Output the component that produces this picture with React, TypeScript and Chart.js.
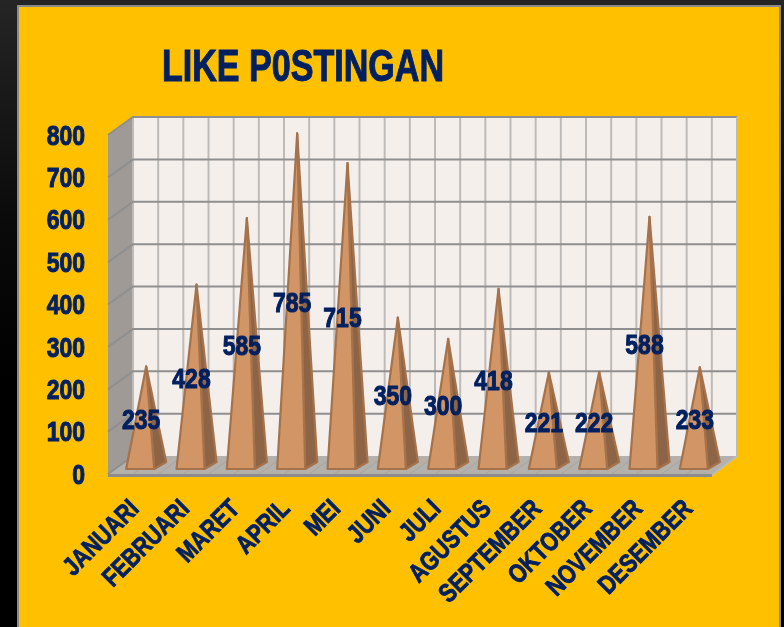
import React, { useEffect, useRef } from "react";
import { Chart, registerables } from "chart.js";

Chart.register(...registerables);

const chartTitle = "LIKE P0STINGAN";
const months = ["JANUARI", "FEBRUARI", "MARET", "APRIL", "MEI", "JUNI", "JULI", "AGUSTUS", "SEPTEMBER", "OKTOBER", "NOVEMBER", "DESEMBER"];
const likes = [235, 428, 585, 785, 715, 350, 300, 418, 221, 222, 588, 233];

const NAVY = "#002060";
const FONT = "'Liberation Sans', Arial, sans-serif";
const SQUEEZE = 0.82;
const DX = 25;
const DY = -18;

const scene = {
  id: "scene3d",
  beforeInit(chart: any) {
    // the reference's text is horizontally condensed
    const ctx = chart.ctx;
    const fill = ctx.fillText.bind(ctx);
    const stroke = ctx.strokeText.bind(ctx);
    ctx.fillText = (s: string, px: number, py: number, mw?: number) => {
      fill(s, px, py, mw ?? ctx.measureText(s).width * SQUEEZE);
      if (s === chartTitle) {
        ctx.save();
        ctx.strokeStyle = NAVY;
        ctx.lineWidth = 1;
        stroke(s, px, py, mw);
        ctx.restore();
      }
    };
    ctx.strokeText = (s: string, px: number, py: number, mw?: number) =>
      stroke(s, px, py, mw ?? ctx.measureText(s).width * SQUEEZE);
  },
  beforeDraw(chart: any) {
    const { ctx, scales } = chart;
    const x = scales.x;
    const y = scales.y;
    const l = x.left, r = x.right, t = y.top, b = y.bottom;
    ctx.save();
    // side wall
    ctx.fillStyle = "#a09a96";
    ctx.beginPath();
    ctx.moveTo(l, t); ctx.lineTo(l + DX, t + DY); ctx.lineTo(l + DX, b + DY); ctx.lineTo(l, b);
    ctx.closePath(); ctx.fill();
    // back wall
    ctx.fillStyle = "#f5efec";
    ctx.fillRect(l + DX, t + DY, r - l, b - t);
    // floor
    ctx.fillStyle = "#b4b1ac";
    ctx.beginPath();
    ctx.moveTo(l, b); ctx.lineTo(l + DX, b + DY); ctx.lineTo(r + DX, b + DY); ctx.lineTo(r, b);
    ctx.closePath(); ctx.fill();
    // vertical grid on the wall and floor, at each tick and each half category
    const half = (x.getPixelForTick(1) - x.getPixelForTick(0)) / 2;
    for (let i = 0; i <= months.length * 2; i++) {
      const px = l + i * half;
      ctx.strokeStyle = "#bdbbb9";
      ctx.lineWidth = 2;
      ctx.beginPath();
      ctx.moveTo(px + DX, t + DY); ctx.lineTo(px + DX, b + DY);
      ctx.stroke();
      ctx.strokeStyle = "#a9a6a2";
      ctx.lineWidth = 1;
      ctx.beginPath();
      ctx.moveTo(px + DX, b + DY); ctx.lineTo(px, b);
      ctx.stroke();
    }
    // horizontal grid
    ctx.strokeStyle = "#8f8f8f";
    ctx.lineWidth = 2;
    y.ticks.forEach((_: any, i: number) => {
      const py = y.getPixelForTick(i);
      ctx.beginPath();
      ctx.moveTo(l, py); ctx.lineTo(l + DX, py + DY);
      if (i > 0) ctx.lineTo(r + DX, py + DY);
      ctx.stroke();
    });
    // floor front edge
    ctx.strokeStyle = "#8c8c8c";
    ctx.lineWidth = 3;
    ctx.beginPath();
    ctx.moveTo(l, b + 1.5); ctx.lineTo(r, b + 1.5);
    ctx.stroke();
    ctx.strokeStyle = "#bdbbb9";
    ctx.lineWidth = 2;
    ctx.beginPath();
    ctx.moveTo(r, b + 1); ctx.lineTo(r + DX, b + DY);
    ctx.lineTo(r + DX, t + DY);
    ctx.stroke();
    ctx.restore();
  },
  afterDatasetsDraw(chart: any) {
    const { ctx } = chart;
    const bars = chart.getDatasetMeta(0).data;
    const base = chart.scales.y.bottom;
    ctx.save();
    ctx.lineJoin = "round";
    bars.forEach((bar: any) => {
      const c = bar.x;
      const apexX = c + 13;
      const apexY = bar.y - 8;
      ctx.lineWidth = 2.2;
      ctx.strokeStyle = "#a5724b";
      ctx.fillStyle = "#8d6546";
      ctx.beginPath();
      ctx.moveTo(c + 21, base - 5); ctx.lineTo(c + 33, base - 12); ctx.lineTo(apexX, apexY);
      ctx.closePath(); ctx.fill(); ctx.stroke();
      ctx.fillStyle = "#d29565";
      ctx.beginPath();
      ctx.moveTo(c - 7, base - 5); ctx.lineTo(c + 21, base - 5); ctx.lineTo(apexX, apexY);
      ctx.closePath(); ctx.fill(); ctx.stroke();
    });
    ctx.font = `bold 28px ${FONT}`;
    ctx.fillStyle = NAVY;
    ctx.strokeStyle = NAVY;
    ctx.lineWidth = 1;
    ctx.textAlign = "center";
    ctx.textBaseline = "middle";
    bars.forEach((bar: any, i: number) => {
      const lx = bar.x + 8;
      const ly = (bar.y + base) / 2 - 3;
      ctx.fillText(String(likes[i]), lx, ly);
      ctx.strokeText(String(likes[i]), lx, ly);
    });
    ctx.restore();
  },
  afterLayout(chart: any) {
    const block = chart.titleBlock;
    if (block) { block.left = 162; block.right = 444; }
  },
};

export default function App() {
  const ref = useRef<HTMLCanvasElement>(null);
  useEffect(() => {
    const chart = new Chart(ref.current as HTMLCanvasElement, {
      type: "bar",
      data: {
        labels: months,
        datasets: [{ label: "Like", data: likes, backgroundColor: "transparent", borderWidth: 0 }],
      },
      plugins: [scene],
      options: {
        animation: false,
        responsive: false,
        layout: { padding: { left: 0, right: 72, top: 0, bottom: 0 } },
        plugins: {
          legend: { display: false },
          tooltip: { enabled: false },
          title: {
            display: true,
            text: chartTitle,
            color: NAVY,
            align: "start",
            fullSize: false,
            font: { family: FONT, size: 44, weight: "bold", lineHeight: 1.2 },
            padding: { top: 42, bottom: 40.2 },
          },
        },
        scales: {
          x: {
            grid: { display: false },
            border: { display: false },
            afterFit(s: any) { s.height = 153; },
            ticks: {
              autoSkip: false,
              minRotation: 45,
              maxRotation: 45,
              padding: 12,
              labelOffset: 2,
              color: NAVY,
              textStrokeColor: NAVY,
              textStrokeWidth: 0.9,
              font: { family: FONT, size: 26, weight: "bold" },
            },
          },
          y: {
            min: 0,
            max: 800,
            grid: { display: false, drawTicks: false },
            border: { display: false },
            afterFit(s: any) { s.width = 108; },
            ticks: {
              stepSize: 100,
              padding: 23,
              labelOffset: 2,
              color: NAVY,
              textStrokeColor: NAVY,
              textStrokeWidth: 1,
              font: { family: FONT, size: 28, weight: "bold" },
            },
          },
        },
      } as any,
    });
    return () => chart.destroy();
  }, []);

  return (
    <div style={{ position: "fixed", inset: 0, width: 784, height: 627, overflow: "hidden", background: "linear-gradient(180deg, #252525 0%, #0a0a0a 35%, #000 60%)" }}>
      <div style={{ position: "absolute", left: 17, top: 5, width: 764, height: 640, boxSizing: "border-box", background: "#ffc000", border: "2px solid #8a8a8a" }} />
      <canvas ref={ref} width={784} height={627} style={{ position: "absolute", left: 0, top: 0, display: "block" }} />
    </div>
  );
}
